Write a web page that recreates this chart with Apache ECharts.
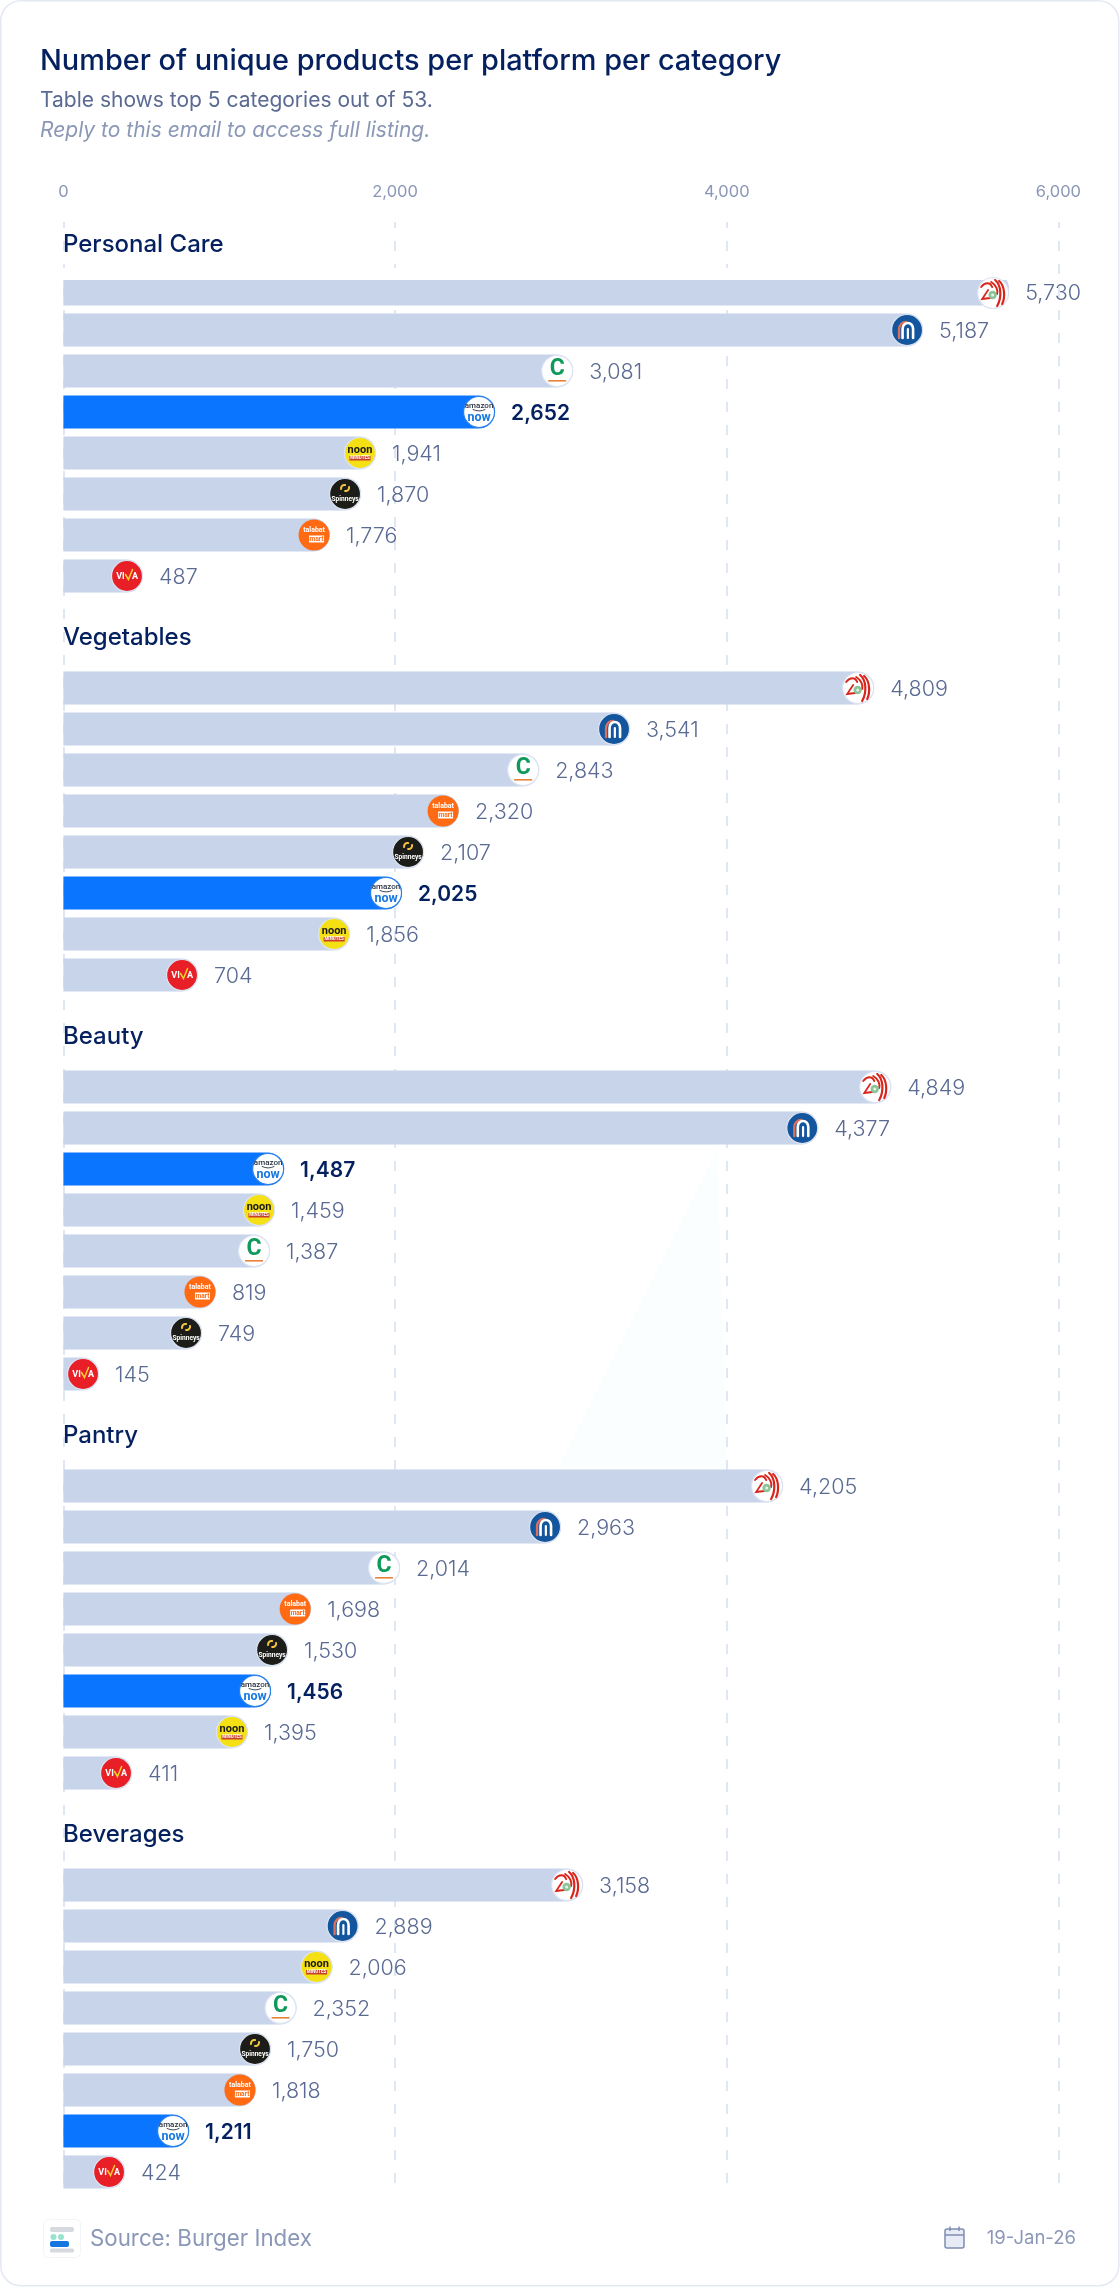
<!DOCTYPE html>
<html>
<head>
<meta charset="utf-8">
<style>html,body{margin:0;padding:0;background:#fff}#c{width:1120px;height:2287px}</style>
<script src="https://cdn.jsdelivr.net/npm/echarts@6/dist/echarts.min.js"></script>
</head>
<body>
<div id="c"></div>
<script>
// ---------- data ----------
const categories = ['Personal Care', 'Vegetables', 'Beauty', 'Pantry', 'Beverages'];
const axisTicks = [0, 2000, 4000, 6000];

// platform per row
const personalCarePlatforms = ['lulu', 'nesto', 'carrefour', 'amazon', 'noon', 'spinneys', 'talabat', 'viva'];
const vegetablesPlatforms   = ['lulu', 'nesto', 'carrefour', 'talabat', 'spinneys', 'amazon', 'noon', 'viva'];
const beautyPlatforms       = ['lulu', 'nesto', 'amazon', 'noon', 'carrefour', 'talabat', 'spinneys', 'viva'];
const pantryPlatforms       = ['lulu', 'nesto', 'carrefour', 'talabat', 'spinneys', 'amazon', 'noon', 'viva'];
const beveragesPlatforms    = ['lulu', 'nesto', 'noon', 'carrefour', 'spinneys', 'talabat', 'amazon', 'viva'];

// printed numbers
const personalCareLabels = [5730, 5187, 3081, 2652, 1941, 1870, 1776, 487];
const vegetablesLabels   = [4809, 3541, 2843, 2320, 2107, 2025, 1856, 704];
const beautyLabels       = [4849, 4377, 1487, 1459, 1387, 819, 749, 145];
const pantryLabels       = [4205, 2963, 2014, 1698, 1530, 1456, 1395, 411];
const beveragesLabels    = [3158, 2889, 2006, 2352, 1750, 1818, 1211, 424];

// bar lengths as drawn in the picture (they do not always agree with the printed numbers)
const personalCareBars = [5703, 5184, 3074, 2603, 1885, 1795, 1608, 480];
const vegetablesBars   = [4889, 3417, 2869, 2386, 2175, 2042, 1729, 812];
const beautyBars       = [4992, 4552, 1331, 1276, 1246, 920, 836, 215];
const pantryBars       = [4340, 3001, 2030, 1494, 1355, 1252, 1113, 414];
const beveragesBars    = [3134, 1780, 1623, 1406, 1252, 1161, 758, 372];

const allPlatforms = [personalCarePlatforms, vegetablesPlatforms, beautyPlatforms, pantryPlatforms, beveragesPlatforms];
const allLabels = [personalCareLabels, vegetablesLabels, beautyLabels, pantryLabels, beveragesLabels];
const allBars = [personalCareBars, vegetablesBars, beautyBars, pantryBars, beveragesBars];

// ---------- style / layout ----------
const FONT = 'Inter, "Noto Sans", sans-serif';
const LOGO_FONT = 'Roboto, sans-serif';
const NAVY = '#04205e', GREY = '#5a6a92', SOFT = '#8a97b6';
const GRID_L = 63.4, GRID_W = 995, ROW = 41, FIRST_TOP = 268.5, GROUP_STEP = 399;
const fmt = v => v.toLocaleString('en-US');

function txt(text, x, y, size, fill, weight) {
  return { type: 'text', x, y, silent: true, style: { text, fill, fontSize: size, fontWeight: weight || 700,
    fontFamily: LOGO_FONT, align: 'center', verticalAlign: 'middle' } };
}
function stroke(pathData, color, w) {
  return { type: 'path', shape: { pathData }, style: { fill: 'none', stroke: color, lineWidth: w, lineCap: 'round' } };
}
function disc(r, fill, ringColor, ringW) {
  return { type: 'circle', shape: { cx: 0, cy: 0, r }, style: { fill, stroke: ringColor, lineWidth: ringW } };
}
const RING = '#dce4f3';
const logos = {
  lulu: () => [disc(15.5, '#fff', RING, 1.2),
    stroke('M2,-13 C8,-8 9,4 4,13', '#d9261c', 2.2),
    stroke('M6,-12 C12,-7 12,5 9,11', '#d9261c', 2.2),
    stroke('M-2,-11 C3,-8 5,-3 4,1', '#d9261c', 2),
    stroke('M-12,-6 C-8,-11 -3,-11 -1,-6', '#d9261c', 2),
    stroke('M-5,-3 L-11,6 L-3,5', '#d9261c', 1.8),
    { type: 'circle', shape: { cx: -0.5, cy: 2, r: 4.2 }, style: { fill: '#8cc49a' } },
    { type: 'circle', shape: { cx: -0.5, cy: 2, r: 1.5 }, style: { fill: '#e6f3e9' } }],
  nesto: () => [disc(15.5, '#14569e', RING, 1.2),
    stroke('M-8,8 L-8,-1 A7,7 0 0 1 -1,-8', '#d9705c', 2.4),
    stroke('M-4.5,8 L-4.5,-1 A5.2,6 0 0 1 6,-1 L6,8', '#ffffff', 2.6),
    stroke('M0.8,8 L0.8,-1', '#ffffff', 2.2)],
  carrefour: () => [disc(15.5, '#fff', RING, 1.2),
    txt('C', 0, -1.5, 23, '#0f9a5c', 700),
    { type: 'rect', shape: { x: -9, y: 9, width: 18, height: 1.6 }, style: { fill: '#e8823a' } }],
  amazon: () => [disc(15.5, '#fff', '#2a7fe8', 1.2),
    txt('amazon', 0, -6.5, 8, '#2b3340', 500),
    stroke('M-6,-2.5 Q0,0.5 6,-2.5', '#2b3340', 0.9),
    txt('now', 0, 5.5, 12.5, '#1778e0', 700)],
  noon: () => [disc(15.5, '#f4e013', RING, 1.2),
    txt('noon', 0, -3, 11, '#1a1a1a', 700),
    { type: 'rect', shape: { x: -10.5, y: 3, width: 21, height: 4.5 }, style: { fill: '#c9402a' } },
    txt('MINUTES', 0, 5.3, 4.5, '#fff', 700)],
  spinneys: () => [disc(15.5, '#1c1c18', RING, 1.2),
    stroke('M-4,-5 A3.5,3.5 0 0 1 0,-9', '#f2c53d', 2),
    stroke('M4,-7 A3.5,3.5 0 0 1 0,-3', '#f2c53d', 2),
    txt('Spinneys', 0, 5, 6.6, '#fff', 700)],
  talabat: () => [disc(15.5, '#ff6a13', 'none', 0),
    txt('talabat', 0, -4.5, 7, '#fff', 700),
    { type: 'rect', shape: { x: -5, y: 0.5, width: 15, height: 7 }, style: { fill: '#fff' } },
    txt('mart', 2.5, 4.1, 6.6, '#ff6a13', 700)],
  viva: () => [disc(15.5, '#e81f27', RING, 1.2),
    txt('VI', -6.5, 0.5, 9, '#fff', 700),
    stroke('M-1.5,-1.5 L1.4,3.5 L5.5,-6.5', '#f5cf2a', 1.5),
    txt('A', 8, 0.5, 9, '#fff', 700)]
};

function renderLogo(groupIdx) {
  return function (params, api) {
    const row = api.value(1);
    const end = api.coord([api.value(0), row]);
    const dy = (groupIdx === 0 && row === 0) ? 4 : 0;   // first row of first section sits lower
    const key = allPlatforms[groupIdx][row];
    return { type: 'group', x: end[0] - 16, y: end[1] + dy, children: logos[key]() };
  };
}

// ---------- option ----------
const grids = [{ left: GRID_L, width: GRID_W, top: 222, height: 1968, show: false }];
const xAxes = [{
  gridIndex: 0, type: 'value', position: 'top', min: axisTicks[0], max: axisTicks[axisTicks.length - 1], interval: axisTicks[1] - axisTicks[0],
  axisLine: { show: false }, axisTick: { show: false },
  axisLabel: { color: SOFT, fontFamily: FONT, fontSize: 16.5, margin: 21, formatter: v => fmt(v) },
  splitLine: { show: true, lineStyle: { color: '#dfe7f5', width: 2, type: [10, 13], dashOffset: 4 } }
}];
const yAxes = [{ gridIndex: 0, type: 'value', show: false, min: 0, max: 1 }];
const series = [];
const titles = [
  { text: 'Number of unique products per platform per category', left: 40, top: 61, padding: 0, textVerticalAlign: 'middle',
    textStyle: { color: NAVY, fontFamily: FONT, fontWeight: 500, fontSize: 28.9 } },
  { text: 'Table shows top 5 categories out of 53.', left: 40, top: 100.5, padding: 0, textVerticalAlign: 'middle',
    textStyle: { color: GREY, fontFamily: FONT, fontWeight: 400, fontSize: 21 } },
  { text: 'Reply to this email to access full listing.', left: 40, top: 130.5, padding: 0, textVerticalAlign: 'middle',
    textStyle: { color: SOFT, fontFamily: FONT, fontWeight: 400, fontStyle: 'italic', fontSize: 21 } }
];

categories.forEach((cat, g) => {
  const idx = g + 1;
  const top = FIRST_TOP + GROUP_STEP * g;
  const plats = allPlatforms[g], labs = allLabels[g], bars = allBars[g];
  grids.push({ left: GRID_L, width: GRID_W, top, height: ROW * plats.length, show: false });
  xAxes.push({ gridIndex: idx, type: 'value', min: 0, max: 6000, interval: 2000, show: false, splitLine: { show: false } });
  yAxes.push({ gridIndex: idx, type: 'category', inverse: true, show: false, data: plats });
  titles.push({ text: cat, left: 63, top: g === 0 ? 244.5 : 238.5 + GROUP_STEP * g, padding: 0, textVerticalAlign: 'middle',
    textStyle: { color: NAVY, fontFamily: FONT, fontWeight: 500, fontSize: 24 } });
  series.push({
    type: 'bar', xAxisIndex: idx, yAxisIndex: idx, barWidth: 33, z: 2, silent: true,
    data: bars.map((v, r) => {
      const isAmazon = plats[r] === 'amazon';
      return {
        value: v,
        itemStyle: { color: isAmazon ? '#0a75ff' : '#c8d4ea', borderRadius: [0, 16.5, 16.5, 0] },
        label: {
          show: true, position: 'right', distance: 16,
          offset: [0, (g === 0 && r === 0) ? 5 : 2],
          formatter: () => fmt(labs[r]),
          color: isAmazon ? NAVY : GREY, fontWeight: isAmazon ? 600 : 300,
          fontFamily: FONT, fontSize: isAmazon ? 21 : 21.5
        }
      };
    })
  });
  series.push({
    type: 'custom', xAxisIndex: idx, yAxisIndex: idx, z: 4, silent: true, clip: false,
    renderItem: renderLogo(g),
    encode: { x: 0, y: 1 },
    data: bars.map((v, r) => [v, r])
  });
});

const graphicEls = [
  { type: 'rect', z: -10, silent: true, shape: { x: 0.75, y: 0.75, width: 1118, height: 2285, r: 20 },
    style: { fill: '#fff', stroke: '#e4e9f3', lineWidth: 1.5 } },
  { type: 'polygon', z: -5, silent: true, shape: { points: [[717, 1150], [557, 1470], [727, 1470]] }, style: { fill: '#fbfeff' } },
  // white header band that trims the top of the first bar
  { type: 'rect', z: 3, silent: true, shape: { x: 60, y: 268, width: 970, height: 12 }, style: { fill: '#fff' } },
  // footer mark
  { type: 'rect', silent: true, shape: { x: 43.5, y: 2219.5, width: 37, height: 38, r: 5 }, style: { fill: '#fff', stroke: '#f1f4f8', lineWidth: 1 } },
  { type: 'rect', silent: true, shape: { x: 50, y: 2227, width: 24, height: 5, r: 2 }, style: { fill: '#d6d9e0' } },
  { type: 'circle', silent: true, shape: { cx: 53.5, cy: 2237, r: 3 }, style: { fill: '#98e3cf' } },
  { type: 'circle', silent: true, shape: { cx: 61, cy: 2237, r: 3 }, style: { fill: '#98e3cf' } },
  { type: 'rect', silent: true, shape: { x: 50, y: 2241, width: 19, height: 6, r: 2 }, style: { fill: '#1576e0' } },
  { type: 'rect', silent: true, shape: { x: 50, y: 2248.5, width: 24, height: 4, r: 1.5 }, style: { fill: '#d6d9e0' } },
  { type: 'text', silent: true, x: 90, y: 2239, style: { text: 'Source: Burger Index', fill: SOFT, fontFamily: FONT, fontSize: 22.3, verticalAlign: 'middle', align: 'left' } },
  // calendar icon
  { type: 'rect', silent: true, shape: { x: 945, y: 2229, width: 19, height: 19, r: 2 }, style: { fill: '#e6ebf5', stroke: '#7f8db0', lineWidth: 1.5 } },
  { type: 'line', silent: true, shape: { x1: 945, y1: 2235, x2: 964, y2: 2235 }, style: { stroke: '#7f8db0', lineWidth: 1.5 } },
  { type: 'line', silent: true, shape: { x1: 950, y1: 2226.5, x2: 950, y2: 2231 }, style: { stroke: '#7f8db0', lineWidth: 1.5 } },
  { type: 'line', silent: true, shape: { x1: 959, y1: 2226.5, x2: 959, y2: 2231 }, style: { stroke: '#7f8db0', lineWidth: 1.5 } },
  { type: 'text', silent: true, x: 1076, y: 2238, style: { text: '19-Jan-26', fill: SOFT, fontFamily: FONT, fontSize: 18.5, verticalAlign: 'middle', align: 'right' } }
];

const chart = echarts.init(document.getElementById('c'), null, { renderer: 'canvas', width: 1120, height: 2287 });
chart.setOption({
  animation: false, backgroundColor: '#ffffff',
  title: titles, grid: grids, xAxis: xAxes, yAxis: yAxes, series,
  graphic: { elements: graphicEls }
});
</script>
</body>
</html>
